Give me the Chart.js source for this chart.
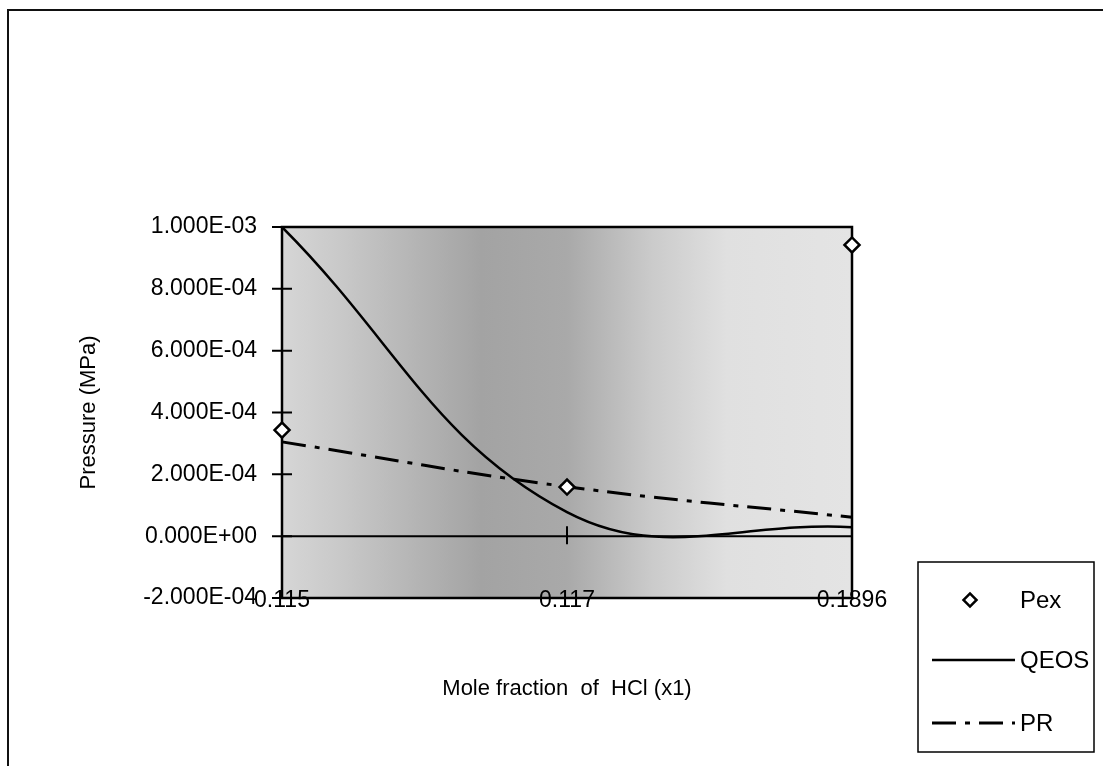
<!DOCTYPE html>
<html>
<head>
<meta charset="utf-8">
<title>Pressure vs mole fraction</title>
<script src="https://cdn.jsdelivr.net/npm/chart.js@4.4.1/dist/chart.umd.min.js"></script>
<style>
  html, body { margin: 0; padding: 0; background: #fff; }
  #wrap { position: relative; width: 1103px; height: 766px; }
</style>
</head>
<body>
<div id="wrap"><canvas id="chart" width="1103" height="766"></canvas></div>
<script>
// x1 categories and pressures (MPa)
const xLabels = ['0.115', '0.117', '0.1896'];
const pexValues = [3.43e-4, 1.59e-4, 9.42e-4];
const qeosValues = [1.0e-3, 7.8e-5, 2.9e-5];
const prValues = [3.05e-4, 1.6e-4, 6.1e-5];

const yMin = -2e-4;
const yMax = 1e-3;
const yStep = 2e-4;

const FONT = '"Liberation Sans", Arial, sans-serif';

// Excel style scientific labels: 1.000E-03, 0.000E+00
function sci(v) {
    if (Math.abs(v) < 1e-12) return '0.000E+00';
    let exp = Math.floor(Math.log10(Math.abs(v)) + 1e-9);
    let s = (v / Math.pow(10, exp)).toFixed(3);
    if (Math.abs(parseFloat(s)) >= 10) {
        exp += 1;
        s = (v / Math.pow(10, exp)).toFixed(3);
    }
    return s + 'E' + (exp < 0 ? '-' : '+') + String(Math.abs(exp)).padStart(2, '0');
}

// shaded plot area goes under everything
const plotFill = {
    id: 'plotFill',
    beforeDraw(chart) {
        const { ctx, chartArea: a } = chart;
        ctx.save();
        const g = ctx.createLinearGradient(a.left, 0, a.right, 0);
        g.addColorStop(0.00, '#d6d6d6');
        g.addColorStop(0.10, '#c9c9c9');
        g.addColorStop(0.35, '#a3a3a3');
        g.addColorStop(0.50, '#a9a9a9');
        g.addColorStop(0.65, '#cbcbcb');
        g.addColorStop(0.78, '#e0e0e0');
        g.addColorStop(1.00, '#e4e4e4');
        ctx.fillStyle = g;
        ctx.fillRect(a.left, a.top, a.right - a.left, a.bottom - a.top);
        ctx.restore();
    }
};

// category labels (they sit across the bottom edge), plot border,
// the zero axis and the crossing tick marks
const plotAxes = {
    id: 'plotAxes',
    beforeDatasetsDraw(chart) {
        const { ctx, chartArea: a, scales: { x, y } } = chart;
        ctx.save();
        ctx.font = '23px ' + FONT;
        ctx.fillStyle = '#000';
        ctx.textAlign = 'center';
        ctx.textBaseline = 'top';
        chart.data.labels.forEach((lab, i) => {
            ctx.fillText(lab, x.getPixelForValue(i), a.bottom - 9);
        });

        ctx.strokeStyle = '#000';
        ctx.lineWidth = 2.5;
        ctx.strokeRect(a.left, a.top, a.right - a.left, a.bottom - a.top);

        // category axis crosses at zero
        const y0 = y.getPixelForValue(0);
        ctx.lineWidth = 2;
        ctx.beginPath();
        ctx.moveTo(a.left, y0);
        ctx.lineTo(a.right, y0);
        xLabels.forEach((_, i) => {
            const px = x.getPixelForValue(i);
            ctx.moveTo(px, y0 - 10);
            ctx.lineTo(px, y0 + 8);
        });
        ctx.stroke();

        ctx.beginPath();
        y.ticks.forEach(t => {
            const py = y.getPixelForValue(t.value);
            ctx.moveTo(a.left - 10, py);
            ctx.lineTo(a.left + 10, py);
        });
        ctx.stroke();
        ctx.restore();
    }
};

// boxed legend at the lower right, plus the outer frame
const boxLegend = {
    id: 'boxLegend',
    afterDraw(chart) {
        const { ctx } = chart;
        ctx.save();
        ctx.strokeStyle = '#111';
        ctx.lineWidth = 2;
        ctx.beginPath();
        ctx.moveTo(8, 766);
        ctx.lineTo(8, 10);
        ctx.lineTo(1103, 10);
        ctx.stroke();

        ctx.lineWidth = 1.5;
        ctx.strokeStyle = '#000';
        ctx.strokeRect(918, 562, 176, 190);

        const rows = [600, 660, 723];
        ctx.font = '24px ' + FONT;
        ctx.textBaseline = 'middle';
        ctx.fillStyle = '#000';
        chart.data.datasets.forEach((ds, i) => {
            const cy = rows[i];
            if (ds.showLine === false) {
                ctx.save();
                ctx.translate(970, cy);
                ctx.rotate(Math.PI / 4);
                ctx.fillStyle = '#fff';
                ctx.strokeStyle = '#000';
                ctx.lineWidth = 2.5;
                const s = 6.5 * Math.SQRT2;
                ctx.fillRect(-s / 2, -s / 2, s, s);
                ctx.strokeRect(-s / 2, -s / 2, s, s);
                ctx.restore();
            } else {
                ctx.save();
                ctx.strokeStyle = ds.borderColor;
                ctx.lineWidth = ds.borderWidth;
                ctx.setLineDash(ds.borderDash || []);
                ctx.beginPath();
                ctx.moveTo(932, cy);
                ctx.lineTo(1015, cy);
                ctx.stroke();
                ctx.restore();
            }
            ctx.fillText(ds.label, 1020, cy + 1);
        });
        ctx.restore();
    }
};

new Chart(document.getElementById('chart'), {
    type: 'line',
    data: {
        labels: xLabels,
        datasets: [
            {
                label: 'Pex',
                data: pexValues,
                showLine: false,
                pointStyle: 'rectRot',
                pointRadius: 7.5,
                pointBorderWidth: 2.5,
                pointBackgroundColor: '#fff',
                pointBorderColor: '#000',
                clip: false,
                order: 0
            },
            {
                label: 'QEOS',
                data: qeosValues,
                borderColor: '#000',
                borderWidth: 2.5,
                pointRadius: 0,
                tension: 0.4,
                fill: false,
                order: 1
            },
            {
                label: 'PR',
                data: prValues,
                borderColor: '#000',
                borderWidth: 3,
                borderDash: [24, 9, 5, 9],
                pointRadius: 0,
                tension: 0.4,
                fill: false,
                order: 2
            }
        ]
    },
    options: {
        responsive: false,
        animation: false,
        devicePixelRatio: 1,
        layout: { padding: { top: 227, right: 251, left: 0, bottom: 0 } },
        plugins: {
            legend: { display: false },
            tooltip: { enabled: false }
        },
        scales: {
            x: {
                type: 'category',
                offset: false,
                grid: { display: false, drawTicks: false },
                border: { display: false },
                ticks: { display: false, autoSkip: false },
                title: {
                    display: true,
                    text: 'Mole fraction  of  HCl (x1)',
                    color: '#000',
                    font: { family: FONT, size: 22 },
                    padding: { top: 0, bottom: 64 }
                },
                afterFit(scale) { scale.height = 168; }
            },
            y: {
                min: yMin,
                max: yMax,
                grid: { display: false, drawTicks: true, tickLength: 10 },
                border: { display: false },
                ticks: {
                    stepSize: yStep,
                    color: '#000',
                    font: { family: FONT, size: 23 },
                    padding: 15,
                    callback: v => sci(v)
                },
                title: {
                    display: true,
                    text: 'Pressure (MPa)',
                    color: '#000',
                    font: { family: FONT, size: 22 },
                    padding: { top: 76, bottom: 0 }
                },
                afterFit(scale) { scale.width = 282; }
            }
        }
    },
    plugins: [plotFill, plotAxes, boxLegend]
});
</script>
</body>
</html>
